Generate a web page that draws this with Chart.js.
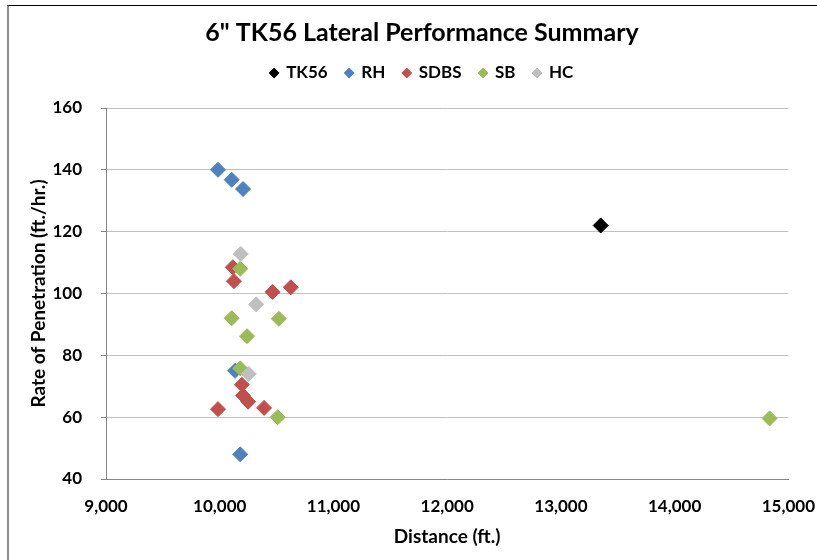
<!DOCTYPE html>
<html>
<head>
<meta charset="utf-8">
<title>6" TK56 Lateral Performance Summary</title>
<script src="https://cdn.jsdelivr.net/npm/chart.js@4.4.1/dist/chart.umd.min.js"></script>
<style>
  html, body { margin:0; padding:0; background:#fff; }
  #wrap { position:relative; width:817px; height:560px; overflow:hidden; }
  #frame { position:absolute; left:7px; top:5px; width:900px; height:600px;
           border-top:1px solid #000; border-left:2px solid #8c8c8c; }
  #chart { position:absolute; left:0; top:0; }
</style>
</head>
<body>
<div id="wrap">
  <div id="frame"></div>
  <canvas id="chart" width="817" height="560"></canvas>
</div>
<script>
/* lateral ROP vs distance */
const SERIES = ['TK56', 'RH', 'SDBS', 'SB', 'HC'];

const tk56X = [13350];
const tk56Y = [122];

const rhX = [9985, 10105, 10205, 10135, 10180];
const rhY = [140, 136.8, 133.8, 75, 48];

const sdbsX = [10115, 10125, 10465, 10625, 10195, 10205, 10250, 9985, 10390];
const sdbsY = [108.5, 104, 100.5, 102, 70.5, 67, 65, 62.6, 63];

const sbX = [10180, 10105, 10520, 10240, 10180, 10510, 14835];
const sbY = [108, 92, 91.8, 86.2, 75.8, 60, 59.6];

const hcX = [10185, 10320, 10255];
const hcY = [112.8, 96.5, 74];

const xTicks = [9000, 10000, 11000, 12000, 13000, 14000, 15000];
const yTicks = [40, 60, 80, 100, 120, 140, 160];

const COLORS = ['#000000', '#4f81bd', '#c0504d', '#9bbb59', '#bfbfbf'];
const FONT = 'Lato, "Open Sans", sans-serif';

function pts(xs, ys){ return xs.map((x, i) => ({ x: x, y: ys[i] })); }

const raw = [[tk56X, tk56Y], [rhX, rhY], [sdbsX, sdbsY], [sbX, sbY], [hcX, hcY]];
const datasets = raw.map((r, i) => ({
  label: SERIES[i],
  data: pts(r[0], r[1]),
  pointStyle: 'rectRot',
  pointRadius: 7.5,
  pointHoverRadius: 7.5,
  borderWidth: 1,
  backgroundColor: COLORS[i],
  borderColor: COLORS[i],
  order: SERIES.length - i   // later series sit on top, like excel
}));

new Chart(document.getElementById('chart'), {
  type: 'scatter',
  data: { datasets },
  options: {
    responsive: false,
    animation: false,
    layout: { padding: { left: 27, right: 0, top: 0, bottom: 8 } },
    plugins: {
      tooltip: { enabled: false },
      title: {
        display: true,
        text: '6" TK56 Lateral Performance Summary',
        color: '#000',
        font: { family: FONT, size: 25, weight: 'bold', lineHeight: 1.1 },
        padding: { top: 19, bottom: 0 }
      },
      // empty subtitle below the legend, just a spacer above the plot
      subtitle: {
        display: true, text: '', weight: 500,
        font: { size: 1, lineHeight: 1 },
        padding: { top: 15.5, bottom: 0 }
      },
      legend: {
        display: true,
        labels: {
          usePointStyle: true,
          boxWidth: 7, boxHeight: 7,
          padding: 18,
          color: '#000',
          font: { family: FONT, size: 17, weight: 'bold' },
          sort: (a, b) => a.datasetIndex - b.datasetIndex
        }
      }
    },
    scales: {
      x: {
        type: 'linear', min: 9000, max: 15000,
        afterBuildTicks: s => { s.ticks = xTicks.map(v => ({ value: v })); },
        afterFit: s => { s.height = 73; },
        grid: { display: true, drawOnChartArea: false, drawTicks: true,
                tickLength: 15, tickColor: 'rgba(0,0,0,0)' },
        border: { display: true, color: '#868686', width: 1 },
        ticks: {
          padding: 2, color: '#000',
          font: { family: FONT, size: 17, weight: 'bold' },
          callback: v => v.toLocaleString('en-US')
        },
        title: {
          display: true, text: 'Distance (ft.)', color: '#000',
          font: { family: FONT, size: 19, weight: 'bold' },
          padding: { top: 0, bottom: 4 }
        }
      },
      y: {
        type: 'linear', min: 40, max: 160,
        afterBuildTicks: s => { s.ticks = yTicks.map(v => ({ value: v })); },
        afterFit: s => { s.width = 79; },
        grid: { color: '#c0c0c0', tickColor: '#868686', tickLength: 5 },
        border: { display: true, color: '#868686', width: 1 },
        ticks: {
          padding: 19, color: '#000',
          font: { family: FONT, size: 17, weight: 'bold' }
        },
        title: {
          display: true, text: 'Rate of Penetration (ft./hr.)', color: '#000',
          font: { family: FONT, size: 19, weight: 'bold' },
          padding: { top: 0, bottom: 0 }
        }
      }
    }
  }
});
</script>
</body>
</html>
